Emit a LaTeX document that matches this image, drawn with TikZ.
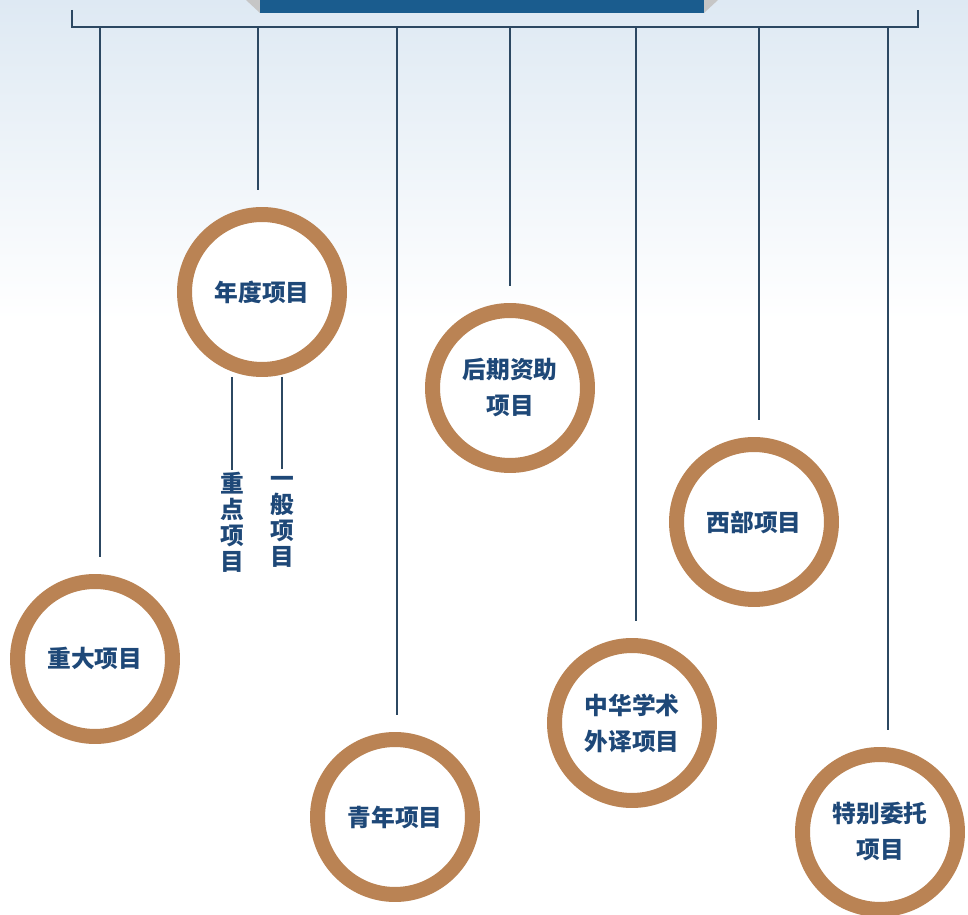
\documentclass[tikz,border=0pt]{standalone}
\usepackage{fontspec}
\newfontfamily\cjk{Noto Sans CJK SC}
\usetikzlibrary{positioning,calc,backgrounds}
\usepackage{xcolor}
\definecolor{ringbrown}{RGB}{186,131,84}
\definecolor{textblue}{RGB}{30,72,120}
\definecolor{lineblue}{RGB}{44,72,98}
\definecolor{bannerblue}{RGB}{26,92,142}
\definecolor{skyblue}{RGB}{222,233,243}

\begin{document}
\begin{tikzpicture}[
    x=0.02cm, y=-0.02cm,
    proj/.style={circle, draw=ringbrown, line width=0.3cm, fill=white,
                 minimum size=3.1cm, inner sep=0pt, align=center,
                 font=\cjk\bfseries\fontsize{13.5}{20.5}\selectfont, text=textblue},
    sublabel/.style={align=center, inner sep=1pt, text=textblue,
                     font=\cjk\bfseries\fontsize{13.5}{14.8}\selectfont},
    link/.style={lineblue, line width=1.1pt},
    drop/.style={link, shorten >=0.35cm}
]
\useasboundingbox (0,0) rectangle (968,915);

% Background
\begin{scope}[on background layer]
\fill[white] (0,0) rectangle (968,915);
\shade[top color=skyblue, bottom color=white] (0,0) rectangle (968,320);
\end{scope}

% Banner
\fill[gray!45] (246,0) -- (718,0) -- (704,13) -- (260,13) -- cycle;
\fill[bannerblue] (260,0) rectangle (704,13);

% Bracket
\coordinate (bl) at (72,10);
\coordinate (br) at (918,10);
\draw[link] (bl) -- (72,27) -- (918,27) -- (br);

% Projects
\node[proj] (zd) at (95,659) {重大项目};
\node[proj] (nd) at (262,292) {年度项目};
\node[proj] (qn) at (395,817) {青年项目};
\node[proj] (hq) at (510,388) {后期资助\\项目};
\node[proj] (zh) at (632,723) {中华学术\\外译项目};
\node[proj] (xb) at (754,522) {西部项目};
\node[proj] (tb) at (880,832) {特别委托\\项目};

% Sub-projects
\node[sublabel] (zdxm) at (232,522) {重\\点\\项\\目};
\node[sublabel] (ybxm) at (282,522) {一\\般\\项\\目};

% Drops
\coordinate (t1) at (100,27);
\coordinate (t2) at (258,27);
\coordinate (t3) at (397,27);
\coordinate (t4) at (510,27);
\coordinate (t5) at (636,27);
\coordinate (t6) at (759,27);
\coordinate (t7) at (888,27);

\begin{scope}[on background layer]
\draw[drop] (t1) -- (t1 |- zd.north);
\draw[drop] (t2) -- (t2 |- nd.north);
\draw[drop] (t3) -- (t3 |- qn.north);
\draw[drop] (t4) -- (t4 |- hq.north);
\draw[drop] (t5) -- (t5 |- zh.north);
\draw[drop] (t6) -- (t6 |- xb.north);
\draw[drop] (t7) -- (t7 |- tb.north);
\draw[link] (zdxm.north |- nd.south) -- (zdxm.north);
\draw[link] (ybxm.north |- nd.south) -- ([yshift=3pt]ybxm.north);
\end{scope}

\end{tikzpicture}
\end{document}
